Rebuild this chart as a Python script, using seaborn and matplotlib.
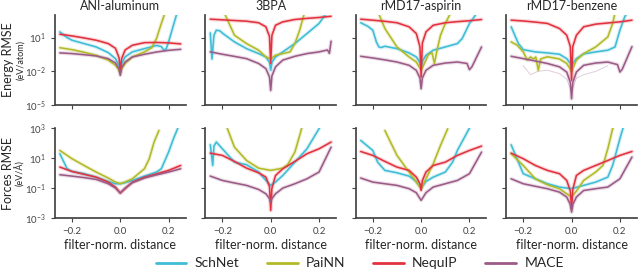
import numpy as np
import pandas as pd
import matplotlib
matplotlib.use("Agg")
import matplotlib.pyplot as plt
import seaborn as sns
from matplotlib.lines import Line2D
from matplotlib.ticker import FixedLocator, NullLocator

datasets = ["ANI-aluminum", "3BPA", "rMD17-aspirin", "rMD17-benzene"]
models = ["SchNet", "PaiNN", "NequIP", "MACE"]
colors = ["#3fbdd6", "#b3ba27", "#e3323f", "#9c5b87"]

# curves as (filter-norm. distance, log10 RMSE)

# --- energy RMSE (eV/atom)
e_ani_schnet = [(-0.25, 1.51), (-0.22, 1.0), (-0.2, 0.77), (-0.15, 0.47), (-0.1, 0.17), (-0.05, -0.33),
                (-0.02, -0.87), (-0.005, -1.5), (0, -2.06), (0.005, -1.3), (0.02, -0.72), (0.05, -0.27),
                (0.1, 0.02), (0.15, 0.3), (0.17, 0.2), (0.18, -0.1), (0.19, 0.0), (0.2, 0.62), (0.22, 2.1),
                (0.235, 3.2)]
e_ani_painn = [(-0.25, 0.1), (-0.2, -0.07), (-0.15, -0.3), (-0.1, -0.57), (-0.05, -1.0), (-0.02, -1.46),
               (-0.005, -1.9), (0, -2.2), (0.005, -1.8), (0.02, -1.3), (0.05, -0.72), (0.1, -0.27),
               (0.13, 0.1), (0.15, 0.92), (0.17, 2.26), (0.185, 3.2)]
e_ani_nequip = [(-0.25, 1.3), (-0.2, 1.15), (-0.15, 0.97), (-0.1, 0.77), (-0.05, 0.47), (-0.02, 0.05),
                (-0.005, -0.8), (0, -2.0), (0.005, -0.9), (0.02, -0.1), (0.05, 0.32), (0.1, 0.55),
                (0.15, 0.57), (0.2, 0.53), (0.25, 0.44)]
e_ani_mace = [(-0.25, -0.36), (-0.2, -0.42), (-0.15, -0.52), (-0.1, -0.63), (-0.05, -0.87), (-0.02, -1.26),
              (-0.005, -1.8), (0, -2.36), (0.005, -1.7), (0.02, -1.17), (0.05, -0.72), (0.1, -0.48),
              (0.15, -0.28), (0.2, -0.13), (0.25, -0.04)]

e_bpa_schnet = [(-0.25, 1.42), (-0.243, -0.9), (-0.235, 1.2), (-0.225, 1.66), (-0.21, 1.6), (-0.2, 1.4),
                (-0.15, 0.62), (-0.1, 0.02), (-0.05, -0.42), (-0.02, -0.72), (-0.005, -1.2), (0, -1.9),
                (0.005, -1.2), (0.02, -0.72), (0.05, -0.27), (0.1, 0.47), (0.15, 1.36), (0.2, 2.26),
                (0.22, 2.85), (0.23, 3.2)]
e_bpa_painn = [(-0.19, 3.1), (-0.15, 1.21), (-0.1, 0.47), (-0.05, -0.12), (-0.02, -0.72), (0, -0.9),
               (0.02, -0.57), (0.05, -0.42), (0.08, -0.27), (0.1, 0.47), (0.12, 1.66), (0.135, 2.85),
               (0.14, 3.2)]
e_bpa_nequip = [(-0.25, 2.64), (-0.2, 2.58), (-0.15, 2.52), (-0.1, 2.46), (-0.05, 2.32), (-0.02, 1.96),
                (-0.005, 1.1), (0, -1.3), (0.005, 1.2), (0.02, 2.1), (0.05, 2.4), (0.1, 2.61), (0.15, 2.71),
                (0.2, 2.79), (0.25, 2.9)]
e_bpa_mace = [(-0.25, -0.27), (-0.2, -0.48), (-0.15, -0.67), (-0.1, -0.87), (-0.05, -1.3), (-0.02, -1.76),
              (-0.005, -2.5), (0, -3.7), (0.005, -2.4), (0.02, -1.6), (0.05, -1.0), (0.1, -0.66),
              (0.15, -0.42), (0.2, -0.27), (0.235, -0.1), (0.243, -0.4), (0.25, 0.68)]

e_asp_schnet = [(-0.25, 2.32), (-0.22, 2.0), (-0.2, 1.66), (-0.185, 0.6), (-0.175, 0.17), (-0.165, 0.12),
                (-0.15, 0.23), (-0.1, 0.02), (-0.05, -0.36), (-0.02, -0.72), (-0.005, -1.2), (0, -1.76),
                (0.005, -1.1), (0.02, -0.57), (0.05, -0.12), (0.1, 0.17), (0.15, 0.47), (0.17, 0.92),
                (0.2, 2.26), (0.22, 2.85), (0.23, 3.2)]
e_asp_painn = [(-0.175, 3.1), (-0.15, 1.81), (-0.1, 0.17), (-0.05, -0.72), (-0.02, -1.17), (0, -1.9),
               (0.02, -1.0), (0.03, -0.5), (0.045, -0.35), (0.055, -1.3), (0.065, -0.2), (0.08, 1.2),
               (0.1, 2.26), (0.12, 3.1)]
e_asp_nequip = [(-0.25, 2.64), (-0.2, 2.55), (-0.15, 2.45), (-0.1, 2.32), (-0.05, 1.96), (-0.02, 1.36),
                (-0.005, 0.2), (0, -2.5), (0.005, 0.5), (0.02, 1.51), (0.05, 2.1), (0.1, 2.32), (0.15, 2.42),
                (0.2, 2.5), (0.25, 2.61)]
e_asp_mace = [(-0.25, -0.66), (-0.2, -0.81), (-0.15, -0.98), (-0.1, -1.17), (-0.05, -1.46), (-0.02, -1.91),
              (-0.005, -2.6), (0, -3.55), (0.005, -2.6), (0.02, -1.91), (0.05, -1.46), (0.1, -1.26),
              (0.15, -1.17), (0.19, -1.3), (0.2, -1.85), (0.21, -1.6), (0.25, 0.17)]

e_benz_schnet = [(-0.25, 1.96), (-0.22, 0.47), (-0.2, -0.07), (-0.15, -0.27), (-0.1, -0.36), (-0.05, -0.48),
                 (-0.02, -0.87), (-0.005, -1.3), (0, -1.9), (0.005, -1.3), (0.02, -0.87), (0.05, -0.45),
                 (0.1, -0.27), (0.15, -0.12), (0.18, 0.17), (0.2, 1.66), (0.22, 2.85), (0.23, 3.2)]
e_benz_painn = [(-0.25, 0.62), (-0.225, 0.32), (-0.2, -0.27), (-0.183, -1.0), (-0.17, -0.72), (-0.158, -0.9),
                (-0.148, -0.72), (-0.138, -1.9), (-0.128, -0.9), (-0.1, -0.7), (-0.05, -0.9), (-0.02, -1.3),
                (0, -2.0), (0.02, -1.0), (0.05, -0.42), (0.1, 0.17), (0.15, 1.06), (0.17, 2.26), (0.18, 3.2)]
e_benz_nequip = [(-0.25, 2.55), (-0.2, 2.48), (-0.15, 2.38), (-0.1, 2.26), (-0.05, 1.81), (-0.02, 1.21),
                 (-0.005, 0.2), (0, -2.8), (0.005, 0.2), (0.02, 1.21), (0.05, 1.96), (0.1, 2.2), (0.15, 2.3),
                 (0.2, 2.4), (0.25, 2.55)]
e_benz_mace = [(-0.25, -0.66), (-0.2, -0.87), (-0.15, -1.08), (-0.1, -1.3), (-0.05, -1.6), (-0.02, -2.06),
               (-0.005, -3.0), (0, -4.44), (0.005, -3.0), (0.02, -2.06), (0.05, -1.46), (0.1, -1.26),
               (0.15, -1.17), (0.19, -1.4), (0.2, -2.06), (0.21, -1.8), (0.25, 0.2)]
# the faint stray MACE runs in the benzene panel
e_benz_mace_faint = [(-0.2, -1.5), (-0.17, -2.3), (-0.14, -2.0), (-0.1, -1.9), (-0.05, -2.2), (-0.02, -2.7),
                     (0, -3.8), (0.02, -2.6), (0.05, -2.3), (0.1, -2.0), (0.15, -1.5)]

# --- forces RMSE (eV/A)
f_ani_schnet = [(-0.25, 1.29), (-0.22, 0.29), (-0.2, 0.11), (-0.15, -0.04), (-0.1, -0.27), (-0.05, -0.56),
                (-0.02, -0.71), (0, -0.71), (0.02, -0.64), (0.05, -0.49), (0.1, -0.2), (0.15, 0.07),
                (0.17, 0.29), (0.2, 1.4), (0.22, 2.29), (0.24, 3.07)]
f_ani_painn = [(-0.25, 1.51), (-0.2, 0.96), (-0.15, 0.51), (-0.1, 0.07), (-0.05, -0.33), (-0.02, -0.6),
               (0, -0.71), (0.02, -0.6), (0.05, -0.38), (0.1, 0.29), (0.12, 0.96), (0.14, 2.07), (0.16, 2.84)]
f_ani_nequip = [(-0.25, 0.4), (-0.2, 0.11), (-0.15, -0.08), (-0.1, -0.27), (-0.05, -0.6), (-0.02, -0.93),
                (0, -1.33), (0.02, -1.04), (0.05, -0.6), (0.1, -0.27), (0.15, -0.05), (0.2, 0.18), (0.25, 0.51)]
f_ani_mace = [(-0.25, -0.11), (-0.2, -0.2), (-0.15, -0.3), (-0.1, -0.42), (-0.05, -0.71), (-0.02, -1.0),
              (0, -1.33), (0.02, -1.0), (0.05, -0.64), (0.1, -0.33), (0.15, -0.12), (0.2, 0.07), (0.25, 0.29)]

f_bpa_schnet = [(-0.25, 1.89), (-0.24, 0.51), (-0.235, 1.8), (-0.225, 2.07), (-0.2, 1.62), (-0.15, 0.73),
                (-0.1, 0.56), (-0.05, 0.07), (-0.02, -0.49), (0, -0.82), (0.02, -0.6), (0.05, -0.16),
                (0.1, 0.73), (0.15, 1.62), (0.2, 2.96), (0.205, 3.1)]
f_bpa_painn = [(-0.18, 3.0), (-0.15, 1.73), (-0.1, 0.84), (-0.05, 0.33), (0, 0.18), (0.05, 0.33),
               (0.07, 0.56), (0.1, 1.4), (0.12, 2.51), (0.13, 3.1)]
f_bpa_nequip = [(-0.25, 1.33), (-0.2, 1.18), (-0.15, 0.78), (-0.1, 0.33), (-0.05, 0.02), (-0.02, -0.27),
                (-0.005, -0.9), (0, -2.49), (0.005, -1.0), (0.02, -0.16), (0.05, 0.29), (0.1, 0.78),
                (0.15, 1.29), (0.2, 1.62), (0.25, 2.07)]
f_bpa_mace = [(-0.25, -0.2), (-0.2, -0.49), (-0.15, -0.66), (-0.1, -0.82), (-0.05, -1.09), (-0.02, -1.38),
              (-0.005, -1.7), (0, -1.93), (0.005, -1.7), (0.02, -1.38), (0.05, -1.0), (0.1, -0.71),
              (0.15, -0.38), (0.2, 0.07), (0.25, 1.73)]

f_asp_schnet = [(-0.25, 2.18), (-0.2, 1.51), (-0.18, 0.73), (-0.15, 0.18), (-0.1, 0.02), (-0.05, -0.2),
                (-0.02, -0.56), (0, -1.0), (0.02, -0.56), (0.05, -0.27), (0.1, 0.07), (0.13, 0.73),
                (0.15, 1.51), (0.2, 3.0)]
f_asp_painn = [(-0.15, 2.84), (-0.1, 1.18), (-0.05, 0.07), (-0.02, -0.6), (0, -1.04), (0.02, -0.38),
               (0.05, 0.62), (0.08, 1.84), (0.11, 2.96)]
f_asp_nequip = [(-0.25, 1.44), (-0.2, 1.18), (-0.15, 0.78), (-0.1, 0.4), (-0.05, 0.18), (-0.02, -0.27),
                (-0.005, -0.7), (0, -1.16), (0.005, -0.5), (0.02, 0.07), (0.05, 0.51), (0.1, 0.73),
                (0.15, 1.18), (0.2, 1.51), (0.25, 1.8)]
f_asp_mace = [(-0.25, -0.33), (-0.2, -0.6), (-0.15, -0.71), (-0.1, -0.82), (-0.05, -1.04), (-0.02, -1.31),
              (0, -1.82), (0.02, -1.31), (0.05, -0.93), (0.1, -0.71), (0.15, -0.49), (0.2, -0.04), (0.25, 1.4)]

f_benz_schnet = [(-0.25, 1.89), (-0.22, 0.73), (-0.2, -0.04), (-0.15, -0.38), (-0.1, -0.71), (-0.05, -0.93),
                 (0, -1.04), (0.05, -0.82), (0.1, -0.6), (0.15, -0.27), (0.17, 0.51), (0.2, 2.29),
                 (0.21, 2.84), (0.215, 3.1)]
f_benz_painn = [(-0.25, 1.29), (-0.2, 0.51), (-0.15, -0.38), (-0.1, -0.78), (-0.05, -1.04), (-0.02, -1.38),
                (0, -1.6), (0.02, -1.2), (0.05, -0.49), (0.1, 0.07), (0.13, 0.51), (0.15, 1.62),
                (0.17, 2.96), (0.175, 3.1)]
f_benz_nequip = [(-0.25, 1.33), (-0.2, 0.96), (-0.15, 0.51), (-0.1, 0.18), (-0.05, -0.04), (-0.02, -0.49),
                 (-0.005, -1.2), (0, -2.38), (0.005, -1.1), (0.02, -0.16), (0.05, 0.18), (0.1, 0.51),
                 (0.15, 0.84), (0.2, 1.18), (0.25, 1.44)]
f_benz_mace = [(-0.25, -0.38), (-0.2, -0.71), (-0.15, -0.88), (-0.1, -1.04), (-0.05, -1.27), (-0.02, -1.6),
               (-0.005, -2.1), (0, -2.6), (0.005, -2.1), (0.02, -1.6), (0.05, -1.16), (0.1, -1.04),
               (0.15, -0.93), (0.2, -0.38), (0.25, 1.07)]

energy_curves = [
    [e_ani_schnet, e_ani_painn, e_ani_nequip, e_ani_mace],
    [e_bpa_schnet, e_bpa_painn, e_bpa_nequip, e_bpa_mace],
    [e_asp_schnet, e_asp_painn, e_asp_nequip, e_asp_mace],
    [e_benz_schnet, e_benz_painn, e_benz_nequip, e_benz_mace],
]
force_curves = [
    [f_ani_schnet, f_ani_painn, f_ani_nequip, f_ani_mace],
    [f_bpa_schnet, f_bpa_painn, f_bpa_nequip, f_bpa_mace],
    [f_asp_schnet, f_asp_painn, f_asp_nequip, f_asp_mace],
    [f_benz_schnet, f_benz_painn, f_benz_nequip, f_benz_mace],
]

rows = []
for q, curves in [("energy", energy_curves), ("forces", force_curves)]:
    for ds, per_model in zip(datasets, curves):
        for m, pts in zip(models, per_model):
            for x, ly in pts:
                rows.append({"q": q, "ds": ds, "model": m, "x": x, "rmse": 10.0 ** ly})
df = pd.DataFrame(rows)

sns.set_theme(style="ticks")
plt.rcParams["font.family"] = ["Lato", "DejaVu Sans"]
plt.rcParams["mathtext.default"] = "regular"
plt.rcParams["axes.edgecolor"] = "#444444"
plt.rcParams["xtick.color"] = "#444444"
plt.rcParams["ytick.color"] = "#444444"

fig, axes = plt.subplots(2, 4, figsize=(6.4, 2.75), dpi=100, sharex=True, sharey="row")
fig.subplots_adjust(left=0.086, right=0.995, top=0.945, bottom=0.207, wspace=0.153, hspace=0.256)

ylims = {"energy": (1e-5, 1e3), "forces": (1e-3, 1e3)}
yticks = {"energy": [1e-5, 1e-2, 1e1], "forces": [1e-3, 1e-1, 1e1, 1e3]}

for r, q in enumerate(["energy", "forces"]):
    for c, ds in enumerate(datasets):
        ax = axes[r, c]
        sub = df[(df.q == q) & (df.ds == ds)]
        if q == "energy" and ds == "rMD17-benzene":
            fx = [p[0] for p in e_benz_mace_faint]
            fy = [10.0 ** p[1] for p in e_benz_mace_faint]
            ax.plot(fx, fy, color=colors[3], lw=0.7, alpha=0.3)
        # soft band behind each curve, then the curve itself
        sns.lineplot(data=sub, x="x", y="rmse", hue="model", hue_order=models, palette=colors,
                     estimator=None, lw=2.8, alpha=0.2, legend=False, ax=ax)
        sns.lineplot(data=sub, x="x", y="rmse", hue="model", hue_order=models, palette=colors,
                     estimator=None, lw=1.15, legend=False, ax=ax)
        ax.set_yscale("log")
        ax.set_ylim(*ylims[q])
        ax.yaxis.set_major_locator(FixedLocator(yticks[q]))
        ax.yaxis.set_minor_locator(NullLocator())
        ax.set_xlim(-0.27, 0.27)
        ax.set_xticks([-0.2, 0.0, 0.2])
        ax.tick_params(labelsize=7, length=3, width=0.8)
        ax.set_ylabel("")
        ax.set_xlabel("")
        if r == 0:
            ax.set_title(ds, fontsize=9, pad=4)
        else:
            ax.set_xlabel("filter-norm. distance", fontsize=9, labelpad=2)
        sns.despine(ax=ax)

for r, (name, unit) in enumerate([("Energy RMSE", "(eV/atom)"), ("Forces RMSE", "(eV/Å)")]):
    ax = axes[r, 0]
    ax.text(-0.36, 0.5, name, rotation=90, transform=ax.transAxes, ha="center", va="center", fontsize=9)
    ax.text(-0.265, 0.5, unit, rotation=90, transform=ax.transAxes, ha="center", va="center", fontsize=6.5)

handles = [Line2D([], [], color=col, lw=2) for col in colors]
fig.legend(handles, models, loc="lower center", bbox_to_anchor=(0.562, -0.025), ncol=4, frameon=False,
           fontsize=10, handlelength=2.2, columnspacing=2.0, handletextpad=0.6)

fig.savefig("out.png", dpi=100)
